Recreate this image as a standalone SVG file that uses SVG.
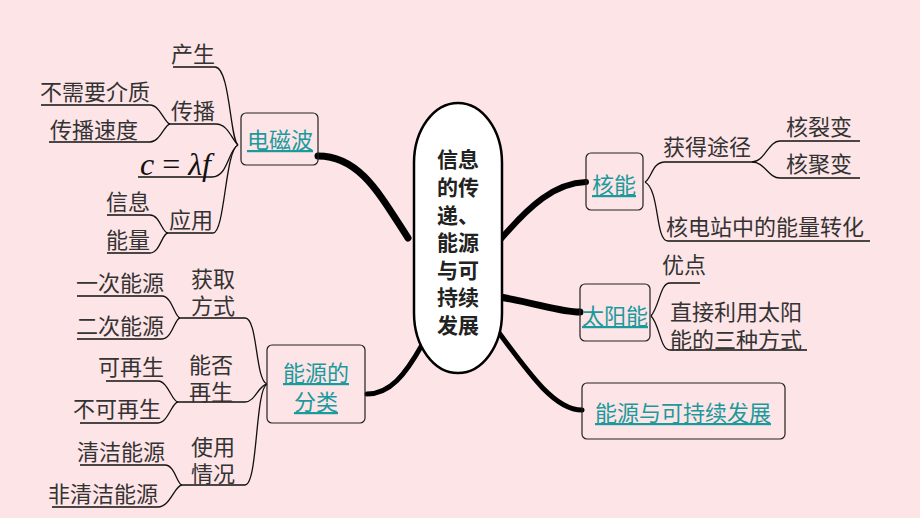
<svg xmlns="http://www.w3.org/2000/svg" width="920" height="518" viewBox="0 0 920 518">
<style>
text{font-family:"Noto Sans CJK SC","Noto Sans",sans-serif;fill:#333;font-size:22px}
.lk{fill:#1b9a9c;text-decoration:underline}
.ct{font-weight:bold;font-size:21px;fill:#222}
.box{fill:none;stroke:#222;stroke-width:1.2}
.thin{fill:none;stroke:#111;stroke-width:1.3}
.thick{fill:none;stroke:#000;stroke-linecap:round}
</style>
<rect width="920" height="518" fill="#fde4e7"/>
<g id="connectors">
<path class="thick" stroke-width="7" d="M318,156 C360,156 380,195 408,238"/>
<path class="thick" stroke-width="5" d="M367,394 C390,394 405,375 422,345"/>
<path class="thick" stroke-width="6" d="M500,240 C530,205 555,183 586,182"/>
<path class="thick" stroke-width="7" d="M500,297 C540,304 560,312 580,312"/>
<path class="thick" stroke-width="5" d="M497,330 C530,375 555,410 582,410"/>
<path class="thin" d="M173,67 H215 C230,67 230,140 238,145"/>
<path class="thin" d="M170,124 H216 C228,124 232,140 238,145"/>
<path class="thin" d="M41,105 H150 C160,105 165,124 170,124"/>
<path class="thin" d="M49,142 H150 C160,142 165,124 170,124"/>
<path class="thin" d="M138,177 H212 C228,177 228,150 238,145"/>
<path class="thin" d="M168,233 H213 C225,233 225,150 238,145"/>
<path class="thin" d="M107,215 H150 C160,215 162,233 168,233"/>
<path class="thin" d="M107,253 H150 C160,253 162,233 168,233"/>
<path class="thin" d="M180,318 H245 C258,318 255,380 267,384"/>
<path class="thin" d="M77,296 H162 C172,296 175,318 180,318"/>
<path class="thin" d="M77,339 H162 C172,339 175,318 180,318"/>
<path class="thin" d="M178,402 H245 C255,402 258,386 267,384"/>
<path class="thin" d="M106,381 H158 C168,381 172,402 178,402"/>
<path class="thin" d="M80,423 H158 C168,423 172,402 178,402"/>
<path class="thin" d="M182,485 H245 C258,485 255,390 267,384"/>
<path class="thin" d="M80,465 H165 C175,465 177,485 182,485"/>
<path class="thin" d="M52,507 H158 C170,507 175,485 182,485"/>
<path class="thin" d="M645,182 C652,178 652,162 665,162 H752"/>
<path class="thin" d="M752,162 C765,162 768,141 780,141 H860"/>
<path class="thin" d="M752,162 C765,162 768,178 780,178 H860"/>
<path class="thin" d="M645,182 C660,190 655,241 668,241 H870"/>
<path class="thin" d="M651,316 C660,305 660,283 670,283 H700"/>
<path class="thin" d="M651,316 C660,325 660,350 670,350 H807"/>
</g>
<g id="center">
<rect x="414" y="103" width="88" height="270" rx="44" ry="60" fill="#fff" stroke="#000" stroke-width="2.5"/>
<text class="ct" text-anchor="middle"><tspan x="458" y="167">信息</tspan><tspan x="458" y="195">的传</tspan><tspan x="458" y="223">递、</tspan><tspan x="458" y="250">能源</tspan><tspan x="458" y="278">与可</tspan><tspan x="458" y="305">持续</tspan><tspan x="458" y="333">发展</tspan></text>
</g>
<g id="em"><rect class="box" x="241" y="113" width="77" height="52" rx="5" fill="#fde4e7"/><text class="lk" x="280" y="148" text-anchor="middle">电磁波</text></g>
<g id="classify"><rect class="box" x="267" y="345" width="98" height="78" rx="5"/><text class="lk" text-anchor="middle"><tspan x="316" y="381">能源的</tspan><tspan x="316" y="410">分类</tspan></text></g>
<g id="nuclear"><rect class="box" x="586" y="153" width="57" height="57" rx="5"/><text class="lk" x="614" y="193" text-anchor="middle">核能</text></g>
<g id="solar"><rect class="box" x="580" y="284" width="70" height="57" rx="5"/><text class="lk" x="615" y="324" text-anchor="middle">太阳能</text></g>
<g id="sustain"><rect class="box" x="582" y="383" width="203" height="56" rx="5"/><text class="lk" x="683" y="421" text-anchor="middle">能源与可持续发展</text></g>
<g id="labels">
<text x="171" y="62">产生</text>
<text x="171" y="119">传播</text>
<text x="40" y="100">不需要介质</text>
<text x="50" y="138">传播速度</text>
<text x="140" y="175" style="font-family:'Liberation Serif',serif;font-style:italic;font-size:32px;fill:#111">c<tspan font-style="normal"> = </tspan>λf</text>
<text x="169" y="228">应用</text>
<text x="106" y="210">信息</text>
<text x="106" y="248">能量</text>
<text><tspan x="191" y="287">获取</tspan><tspan x="191" y="314">方式</tspan></text>
<text x="76" y="291">一次能源</text>
<text x="76" y="334">二次能源</text>
<text><tspan x="189" y="373">能否</tspan><tspan x="189" y="400">再生</tspan></text>
<text x="98" y="375">可再生</text>
<text x="73" y="417">不可再生</text>
<text><tspan x="191" y="455">使用</tspan><tspan x="191" y="482">情况</tspan></text>
<text x="77" y="460">清洁能源</text>
<text x="48" y="502">非清洁能源</text>
<text x="663" y="155">获得途径</text>
<text x="786" y="135">核裂变</text>
<text x="786" y="172">核聚变</text>
<text x="666" y="235">核电站中的能量转化</text>
<text x="662" y="273">优点</text>
<text><tspan x="670" y="320">直接利用太阳</tspan><tspan x="670" y="348">能的三种方式</tspan></text>
</g>
</svg>
